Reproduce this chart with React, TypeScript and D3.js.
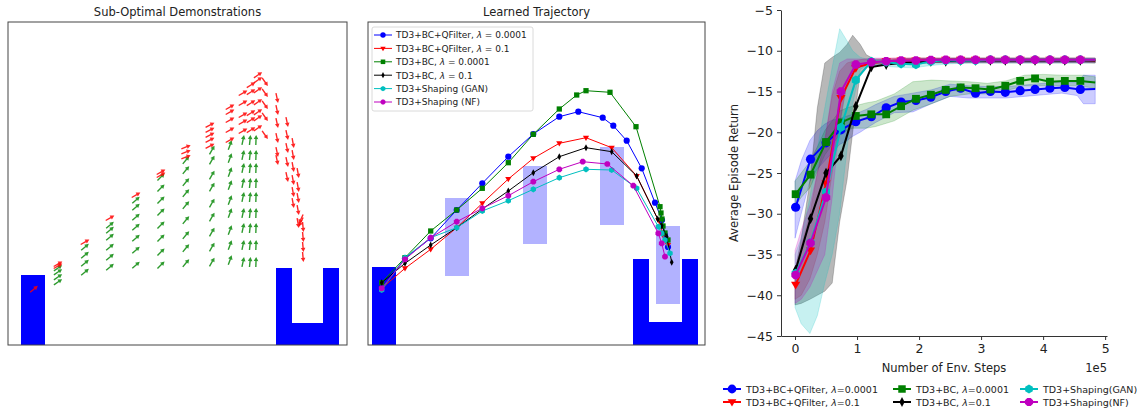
import React, { useRef, useEffect } from 'react';
import * as d3 from 'd3';

// ---------- Panel 1: sub-optimal demonstrations (world units) ----------
const demoStartBlock = [[1.3, 0], [1.3, 7.0], [3.7, 7.0], [3.7, 0]];
const demoGoalCup = [[26.8, 0], [26.8, 7.7], [28.4, 7.7], [28.4, 2.2], [31.5, 2.2], [31.5, 7.7], [33.1, 7.7], [33.1, 0]];

// [x, direction (deg), y positions]
const demoGreenCols: [number, number, number[]][] = [
  [5.0, 35, [7.7, 7.3, 6.8, 6.3]],
  [7.7, 40, [9.8, 9.0, 8.2, 7.3]],
  [10.2, 40, [12.0, 11.5, 10.8, 9.8, 8.8, 7.8]],
  [12.8, 42, [14.5, 13.8, 12.8, 11.8, 10.7, 9.5, 8.0]],
  [15.3, 45, [16.8, 15.7, 14.5, 13.3, 12.0, 10.7, 9.3, 8.0]],
  [17.8, 50, [18.5, 17.5, 16.3, 15.2, 14.0, 12.5, 11.0, 9.7, 8.2]],
  [20.4, 60, [19.5, 18.5, 17.0, 15.8, 14.2, 12.8, 11.3, 9.8, 8.3]],
  [22.2, 70, [20.0, 18.7, 17.3, 16.0, 14.5, 13.2, 11.5, 10.0, 8.5]],
  [23.5, 78, [20.5, 19.0, 17.7, 16.2, 14.8, 13.2, 11.7, 10.0, 8.3]],
  [24.2, 84, [20.5, 19.0, 17.7, 16.2, 14.8, 13.2, 11.7, 10.0, 8.3]],
  [24.8, 88, [20.5, 19.0, 17.7, 16.2, 14.8, 13.2, 11.7, 10.0, 8.3]],
];

const demoRedCols: [number, number, number[]][] = [
  [2.6, 40, [5.6]],
  [5.0, 30, [8.1, 7.9]],
  [7.7, 30, [10.3]],
  [10.2, 30, [12.7]],
  [12.8, 30, [15.0]],
  [15.3, 30, [17.3, 17.0]],
  [17.8, 22, [19.8, 19.3, 18.8]],
  [20.2, 28, [22.0, 21.5, 21.0, 20.5, 19.9]],
  [22.2, 30, [23.8, 23.3, 22.5, 21.5, 20.5]],
  [23.5, 30, [25.2, 24.2, 23.0, 22.3, 21.4]],
  [24.3, 32, [26.0, 25.3, 24.2, 23.2, 22.5, 21.5]],
  [25.0, 35, [27.0, 26.5, 25.5, 24.3, 23.3, 22.7, 21.7]],
  [25.7, -55, [26.3, 25.2, 24.0, 22.8, 21.0]],
  [26.9, -78, [24.7, 23.5, 22.2, 20.7, 19.3, 18.5]],
  [27.9, -78, [22.3, 21.0, 19.7, 18.3, 16.8]],
  [28.5, -80, [20.2, 19.0, 17.8, 16.5, 15.3, 14.2]],
  [29.0, -80, [17.2, 15.8, 14.7, 13.5, 12.2]],
  [29.3, -115, [12.6, 12.3]],
  [29.5, -85, [11.8, 10.8, 9.8, 8.8]],
];

// ---------- Panel 2: learned trajectory ----------
const trajStartBlock = [[0.4, 0], [0.4, 7.8], [2.8, 7.8], [2.8, 0]];
const trajGoalCup = [[26.5, 0], [26.5, 8.6], [28.1, 8.6], [28.1, 2.3], [31.4, 2.3], [31.4, 8.6], [33.0, 8.6], [33.0, 0]];
// x0, x1, y0, y1
const trajObstacles = [
  [7.7, 10.1, 6.9, 14.7],
  [15.5, 17.9, 10.1, 17.9],
  [23.2, 25.6, 12.0, 19.8],
  [28.8, 31.2, 4.1, 11.9],
];

const trajBlue = [[1.37, 5.67], [3.7, 8.67], [6.27, 10.67], [8.87, 13.5], [11.43, 16.17], [14.03, 18.83], [16.53, 21.1], [19.13, 22.83], [21.03, 23.33], [23.47, 22.73], [24.53, 21.93], [25.87, 20.43], [27.37, 17.67], [28.7, 14.23], [29.4, 12.5], [29.7, 11.0], [30.0, 9.8]];
const trajRed = [[1.37, 5.67], [3.7, 7.67], [6.27, 9.57], [8.87, 11.73], [11.43, 14.17], [14.03, 16.6], [16.53, 18.67], [19.13, 20.17], [21.8, 20.73], [24.37, 19.73], [26.87, 16.9], [29.03, 12.5], [29.5, 11.0], [30.0, 10.0]];
const trajGreen = [[1.37, 6.23], [3.7, 8.73], [6.27, 11.4], [8.87, 13.5], [11.43, 15.67], [14.03, 18.23], [16.53, 21.07], [19.13, 23.6], [20.87, 25.0], [21.8, 25.43], [24.2, 25.27], [26.8, 21.83], [29.2, 13.83], [29.3, 13.2], [29.4, 12.6], [29.5, 11.9], [29.7, 11.2], [30.0, 10.5]];
const trajBlack = [[1.37, 6.23], [3.7, 8.17], [6.27, 10.0], [8.87, 11.73], [11.43, 13.6], [14.03, 15.4], [16.53, 17.23], [19.13, 18.83], [21.8, 19.73], [24.37, 19.33], [26.87, 16.9], [28.97, 12.6], [29.37, 11.93], [29.87, 10.83], [30.37, 8.27]];
const trajCyan = [[1.37, 5.5], [3.7, 8.73], [6.27, 10.73], [8.87, 11.73], [11.43, 13.4], [14.03, 14.43], [16.53, 15.57], [19.13, 16.73], [21.8, 17.57], [24.37, 17.5], [26.87, 15.67], [29.03, 11.83], [29.37, 11.17], [29.7, 10.5], [30.2, 9.17]];
const trajMagenta = [[1.37, 5.67], [3.7, 8.57], [6.27, 10.73], [8.87, 12.33], [11.43, 13.67], [14.03, 14.93], [16.53, 16.33], [19.13, 17.57], [21.47, 18.33], [23.93, 18.1], [26.53, 15.93], [29.03, 11.17], [29.37, 10.17], [29.7, 8.83]];

const trajNames = [
  'TD3+BC+QFilter, λ = 0.0001',
  'TD3+BC+QFilter, λ = 0.1',
  'TD3+BC, λ = 0.0001',
  'TD3+BC, λ = 0.1',
  'TD3+Shaping (GAN)',
  'TD3+Shaping (NF)',
];

// ---------- Panel 3: learning curves (x in 1e5 env steps) ----------
const stepsX = [0.01, 0.25, 0.5, 0.74, 0.98, 1.23, 1.47, 1.71, 1.95, 2.19, 2.43, 2.67, 2.91, 3.15, 3.39, 3.63, 3.87, 4.11, 4.35, 4.6, 4.84];
const retBlue = [-29.2, -23.3, -21.3, -19.7, -18.7, -18.1, -17.0, -16.3, -16.1, -15.7, -15.0, -14.6, -15.2, -15.0, -15.1, -14.9, -14.75, -14.6, -14.5, -14.75, -14.7];
const retRed = [-38.7, -34.5, -26.3, -15.8, -12.1, -11.5, -11.3, -11.2, -11.2, -11.15, -11.1, -11.1, -11.1, -11.1, -11.1, -11.1, -11.1, -11.1, -11.1, -11.1, -11.2];
const retGreen = [-27.6, -25.2, -21.2, -18.8, -18.0, -17.8, -17.8, -16.8, -15.9, -15.4, -14.8, -14.5, -14.6, -14.75, -14.3, -13.7, -13.4, -13.8, -13.7, -13.7, -13.9];
const retBlack = [-36.9, -30.6, -25.0, -22.9, -16.8, -12.0, -11.7, -11.5, -11.4, -11.3, -11.3, -11.2, -11.2, -11.2, -11.2, -11.2, -11.2, -11.2, -11.2, -11.2, -11.2];
const retCyan = [-37.3, -33.5, -27.3, -19.4, -13.6, -11.3, -11.4, -11.6, -11.7, -11.3, -11.2, -11.2, -11.2, -11.1, -11.1, -11.1, -11.1, -11.1, -11.1, -11.1, -11.1];
const retMagenta = [-37.5, -33.6, -28.0, -15.0, -11.7, -11.4, -11.3, -11.2, -11.2, -11.15, -11.1, -11.1, -11.1, -11.1, -11.1, -11.1, -11.1, -11.1, -11.1, -11.1, -11.1];

const bandX = [0, 0.1, 0.24, 0.36, 0.48, 0.6, 0.72, 0.84, 0.93, 1.05, 1.15, 1.3, 1.6, 1.9, 2.2, 2.5, 2.8, 3.1, 3.4, 3.7, 4.0, 4.3, 4.55, 4.65, 4.84];
const bandBlueLo = [-33, -30, -26, -24.5, -23.5, -22.5, -21.5, -21, -20.5, -20, -19.5, -18.8, -17.6, -17.5, -16.5, -15.6, -15.8, -15.8, -15.8, -15.6, -15.4, -15.2, -15.5, -16.5, -16.5];
const bandBlueHi = [-26, -23.5, -21, -19.8, -19, -18.5, -18.3, -18, -17.8, -17.5, -17.2, -16.6, -15.6, -15.2, -14.8, -14.1, -14.3, -14.4, -14.4, -14.2, -14.0, -13.8, -13.9, -13.0, -13.0];
const bandGreenLo = [-29, -28, -26.8, -24.8, -22.8, -21.5, -20.3, -19.8, -19.5, -19.5, -19.5, -19.3, -18.6, -17.3, -16.5, -15.6, -15.3, -15.3, -14.9, -14.3, -14.3, -14.3, -14.3, -14.4, -14.6];
const bandGreenHi = [-26, -25, -23.6, -21.8, -19.8, -18.6, -17.4, -17.0, -16.8, -16.6, -16.4, -16.2, -15.3, -13.8, -13.6, -13.7, -13.8, -14.0, -13.7, -13.0, -12.9, -13.0, -13.0, -13.0, -13.2];
const bandBlackLo = [-41.2, -41, -40.5, -40, -39.5, -38.5, -31, -25.8, -20, -12.8, -12.0, -11.8, -11.6, -11.6, -11.5, -11.5, -11.5, -11.5, -11.5, -11.5, -11.5, -11.5, -11.5, -11.5, -11.5];
const bandBlackHi = [-37, -33, -26, -17, -11.5, -10.8, -10.2, -9.2, -8.1, -9.2, -10.5, -11.1, -11.0, -10.9, -10.9, -10.9, -10.9, -10.9, -10.9, -10.9, -10.9, -10.9, -10.9, -10.9, -10.9];
const bandCyanLo = [-41.5, -43.5, -44.7, -42.5, -38.5, -35, -30, -22, -16.5, -12.3, -11.8, -11.8, -12.0, -12.1, -11.8, -11.6, -11.5, -11.5, -11.5, -11.5, -11.5, -11.5, -11.5, -11.5, -11.5];
const bandCyanHi = [-35, -33, -28, -22, -17, -12, -7.3, -8.8, -10, -10.8, -11.0, -11.0, -11.3, -11.3, -11.0, -10.9, -10.9, -10.9, -10.9, -10.9, -10.9, -10.9, -10.9, -10.9, -10.9];
const bandRedLo = [-40.5, -40, -38, -35, -31, -25, -19, -14, -12.5, -11.8, -11.6, -11.6, -11.5, -11.5, -11.4, -11.4, -11.4, -11.4, -11.4, -11.4, -11.4, -11.4, -11.4, -11.4, -11.5];
const bandRedHi = [-37, -34, -30, -25, -21, -15.5, -12.5, -11.5, -11.3, -11.1, -11.0, -11.0, -10.9, -10.9, -10.9, -10.9, -10.9, -10.9, -10.9, -10.9, -10.9, -10.9, -10.9, -10.9, -10.9];
const bandMagentaLo = [-41, -40.5, -39, -37, -35, -28, -19, -13.5, -12.2, -11.9, -11.7, -11.6, -11.5, -11.4, -11.4, -11.4, -11.4, -11.4, -11.4, -11.4, -11.4, -11.4, -11.4, -11.4, -11.4];
const bandMagentaHi = [-34.5, -32, -29, -25, -21, -15, -11.5, -11.0, -11.0, -11.0, -11.0, -10.9, -10.9, -10.9, -10.9, -10.9, -10.9, -10.9, -10.9, -10.9, -10.9, -10.9, -10.9, -10.9, -10.9];

const curveNames = [
  'TD3+BC+QFilter, λ=0.0001',
  'TD3+BC+QFilter, λ=0.1',
  'TD3+BC, λ=0.0001',
  'TD3+BC, λ=0.1',
  'TD3+Shaping(GAN)',
  'TD3+Shaping(NF)',
];
const yTicks = [-45, -40, -35, -30, -25, -20, -15, -10, -5];
const xTicks = [0, 1, 2, 3, 4, 5];

const colors = ['#0000ff', '#ff0000', '#008000', '#000000', '#00bfbf', '#bf00bf'];
const bandOpacity = [0.2, 0.2, 0.2, 0.28, 0.22, 0.22];
const markers = ['o', 'v', 's', 'd', 'h', '8'];
const FONT = '"DejaVu Sans", sans-serif';

function markerPath(kind: string, r: number): string {
  const poly = (pts: number[][]) => 'M' + pts.map(p => p[0].toFixed(2) + ',' + p[1].toFixed(2)).join('L') + 'Z';
  const ring = (n: number, rot: number) => d3.range(n).map(i => {
    const a = rot + (i * 2 * Math.PI) / n;
    return [r * Math.sin(a), -r * Math.cos(a)];
  });
  switch (kind) {
    case 's': return poly([[-r * 0.85, -r * 0.85], [r * 0.85, -r * 0.85], [r * 0.85, r * 0.85], [-r * 0.85, r * 0.85]]);
    case 'v': return poly([[0, r * 1.05], [-r * 1.0, -r * 0.65], [r * 1.0, -r * 0.65]]);
    case 'd': return poly([[0, -r * 1.15], [r * 0.6, 0], [0, r * 1.15], [-r * 0.6, 0]]);
    case 'h': return poly(ring(6, 0));
    case '8': return poly(ring(8, Math.PI / 8));
    default: return d3.symbol(d3.symbolCircle, Math.PI * r * r)() as string;
  }
}

function addLabel(sel: any, text: string) {
  const parts = text.split('λ');
  sel.append('tspan').text(parts[0]);
  if (parts.length > 1) {
    sel.append('tspan').attr('font-style', 'italic').text('λ');
    sel.append('tspan').text(parts[1]);
  }
}

// quiver glyph, pointing along +x, centred on its midpoint
const ARROW = 'M-5,-0.7L0.9,-0.7L0.9,-2.3L5,0L0.9,2.3L0.9,0.7L-5,0.7Z';

function App() {
  const ref = useRef<SVGSVGElement>(null);

  useEffect(() => {
    const svg = d3.select(ref.current);
    svg.selectAll('*').remove();
    svg.append('rect').attr('width', 1143).attr('height', 414).attr('fill', '#fff');

    // ===== Panel 1 =====
    const sx1 = d3.scaleLinear().domain([0, 33.9]).range([8, 347]);
    const sy1 = d3.scaleLinear().domain([0, 32.3]).range([345, 22]);
    const p1 = svg.append('g');
    const polyLine1 = d3.line<number[]>().x(d => sx1(d[0])).y(d => sy1(d[1]));
    p1.append('path').attr('d', polyLine1(demoStartBlock) + 'Z').attr('fill', '#0000ff');
    p1.append('path').attr('d', polyLine1(demoGoalCup) + 'Z').attr('fill', '#0000ff');
    const drawArrows = (cols: [number, number, number[]][], color: string) => {
      cols.forEach(([x, ang, ys]) => {
        ys.forEach(y => {
          p1.append('path')
            .attr('d', ARROW)
            .attr('transform', `translate(${sx1(x)},${sy1(y)}) rotate(${-ang})`)
            .attr('fill', color)
            .attr('fill-opacity', 0.85);
        });
      });
    };
    drawArrows(demoGreenCols, '#0a8a0a');
    drawArrows(demoRedCols, '#ff0000');
    p1.append('rect').attr('x', sx1(0)).attr('y', sy1(32.3)).attr('width', sx1(33.9) - sx1(0)).attr('height', sy1(0) - sy1(32.3))
      .attr('fill', 'none').attr('stroke', '#444').attr('stroke-width', 1);
    p1.append('text').attr('x', (sx1(0) + sx1(33.9)) / 2).attr('y', 16).attr('text-anchor', 'middle')
      .attr('font-family', FONT).attr('font-size', 11.5).attr('fill', '#222').text('Sub-Optimal Demonstrations');

    // ===== Panel 2 =====
    const sx2 = d3.scaleLinear().domain([0, 33.7]).range([368, 705]);
    const sy2 = d3.scaleLinear().domain([0, 32.3]).range([345, 22]);
    const p2 = svg.append('g');
    const polyLine2 = d3.line<number[]>().x(d => sx2(d[0])).y(d => sy2(d[1]));
    p2.append('path').attr('d', polyLine2(trajStartBlock) + 'Z').attr('fill', '#0000ff');
    p2.append('path').attr('d', polyLine2(trajGoalCup) + 'Z').attr('fill', '#0000ff');
    trajObstacles.forEach(([x0, x1, y0, y1]) => {
      p2.append('rect').attr('x', sx2(x0)).attr('y', sy2(y1)).attr('width', sx2(x1) - sx2(x0)).attr('height', sy2(y0) - sy2(y1))
        .attr('fill', '#0000ff').attr('fill-opacity', 0.3);
    });
    const trajs = [trajBlue, trajRed, trajGreen, trajBlack, trajCyan, trajMagenta];
    trajs.forEach((pts, i) => {
      p2.append('path').attr('d', polyLine2(pts)).attr('fill', 'none').attr('stroke', colors[i]).attr('stroke-width', 1);
      pts.forEach(p => {
        p2.append('path').attr('d', markerPath(markers[i], 3.1))
          .attr('transform', `translate(${sx2(p[0])},${sy2(p[1])})`).attr('fill', colors[i]);
      });
    });
    p2.append('rect').attr('x', sx2(0)).attr('y', sy2(32.3)).attr('width', sx2(33.7) - sx2(0)).attr('height', sy2(0) - sy2(32.3))
      .attr('fill', 'none').attr('stroke', '#444').attr('stroke-width', 1);
    p2.append('text').attr('x', (sx2(0) + sx2(33.7)) / 2).attr('y', 16).attr('text-anchor', 'middle')
      .attr('font-family', FONT).attr('font-size', 11.5).attr('fill', '#222').text('Learned Trajectory');

    // legend panel 2
    const lg2 = p2.append('g');
    lg2.append('rect').attr('x', 372).attr('y', 27).attr('width', 161).attr('height', 84).attr('rx', 2)
      .attr('fill', '#fff').attr('fill-opacity', 0.8).attr('stroke', '#d0d0d0').attr('stroke-width', 0.8);
    trajNames.forEach((name, i) => {
      const yy = 35 + i * 13.4;
      lg2.append('line').attr('x1', 374).attr('x2', 392).attr('y1', yy).attr('y2', yy).attr('stroke', colors[i]).attr('stroke-width', 1);
      lg2.append('path').attr('d', markerPath(markers[i], 2.7)).attr('transform', `translate(383,${yy})`).attr('fill', colors[i]);
      const t = lg2.append('text').attr('x', 396).attr('y', yy + 3.3).attr('font-family', FONT).attr('font-size', 9).attr('fill', '#222');
      addLabel(t, name);
    });

    // ===== Panel 3 =====
    const sx3 = d3.scaleLinear().domain([-0.226, 5.03]).range([781, 1107]);
    const sy3 = d3.scaleLinear().domain([-45, -5]).range([336, 10]);
    const p3 = svg.append('g');
    const bandsLo = [bandBlueLo, bandRedLo, bandGreenLo, bandBlackLo, bandCyanLo, bandMagentaLo];
    const bandsHi = [bandBlueHi, bandRedHi, bandGreenHi, bandBlackHi, bandCyanHi, bandMagentaHi];
    bandsLo.forEach((lo, i) => {
      const area = d3.area<number>()
        .x((_, k) => sx3(bandX[k]))
        .y0((_, k) => sy3(lo[k]))
        .y1((_, k) => sy3(bandsHi[i][k]));
      p3.append('path').attr('d', area(lo)).attr('fill', colors[i]).attr('fill-opacity', bandOpacity[i])
        .attr('stroke', colors[i]).attr('stroke-opacity', 0.25).attr('stroke-width', 0.8);
    });
    const rets = [retBlue, retRed, retGreen, retBlack, retCyan, retMagenta];
    const line3 = d3.line<number>().x((_, k) => sx3(stepsX[k])).y(d => sy3(d));
    rets.forEach((vals, i) => {
      p3.append('path').attr('d', line3(vals)).attr('fill', 'none').attr('stroke', colors[i]).attr('stroke-width', 2);
      vals.slice(0, vals.length - 1).forEach((v, k) => {
        p3.append('path').attr('d', markerPath(markers[i], 4.6))
          .attr('transform', `translate(${sx3(stepsX[k])},${sy3(v)})`).attr('fill', colors[i]);
      });
    });

    // axes
    const axY = p3.append('g').attr('transform', `translate(${sx3.range()[0]},0)`)
      .call(d3.axisLeft(sy3).tickValues(yTicks).tickFormat(d3.format('d')).tickSize(4).tickPadding(4).tickSizeOuter(0));
    const axX = p3.append('g').attr('transform', `translate(0,${sy3.range()[0]})`)
      .call(d3.axisBottom(sx3).tickValues(xTicks).tickFormat(d3.format('d')).tickSize(4).tickPadding(4).tickSizeOuter(0));
    [axY, axX].forEach(ax => {
      ax.attr('font-family', FONT).attr('font-size', 12.5);
      ax.selectAll('path').attr('stroke', '#333').attr('stroke-width', 1);
      ax.selectAll('line').attr('stroke', '#333');
      ax.selectAll('text').attr('fill', '#222');
    });
    p3.append('text').attr('transform', `translate(738,173) rotate(-90)`).attr('text-anchor', 'middle')
      .attr('font-family', FONT).attr('font-size', 11.5).attr('fill', '#222').text('Average Episode Return');
    p3.append('text').attr('x', (sx3.range()[0] + sx3.range()[1]) / 2).attr('y', 372).attr('text-anchor', 'middle')
      .attr('font-family', FONT).attr('font-size', 11.5).attr('fill', '#222').text('Number of Env. Steps');
    p3.append('text').attr('x', 1107).attr('y', 372).attr('text-anchor', 'end')
      .attr('font-family', FONT).attr('font-size', 11.5).attr('fill', '#222').text('1e5');

    // legend panel 3 (3 columns x 2 rows)
    const colX = [723, 893, 1020];
    curveNames.forEach((name, i) => {
      const cx = colX[Math.floor(i / 2)];
      const yy = i % 2 === 0 ? 389 : 402;
      p3.append('line').attr('x1', cx).attr('x2', cx + 18).attr('y1', yy).attr('y2', yy).attr('stroke', colors[i]).attr('stroke-width', 2);
      p3.append('path').attr('d', markerPath(markers[i], 4.4)).attr('transform', `translate(${cx + 9},${yy})`).attr('fill', colors[i]);
      const t = p3.append('text').attr('x', cx + 23).attr('y', yy + 3.5).attr('font-family', FONT).attr('font-size', 9.5).attr('fill', '#222');
      addLabel(t, name);
    });
  }, []);

  return (
    <svg ref={ref} width={1143} height={414} style={{ position: 'absolute', left: 0, top: 0 }} />
  );
}

export default App;
